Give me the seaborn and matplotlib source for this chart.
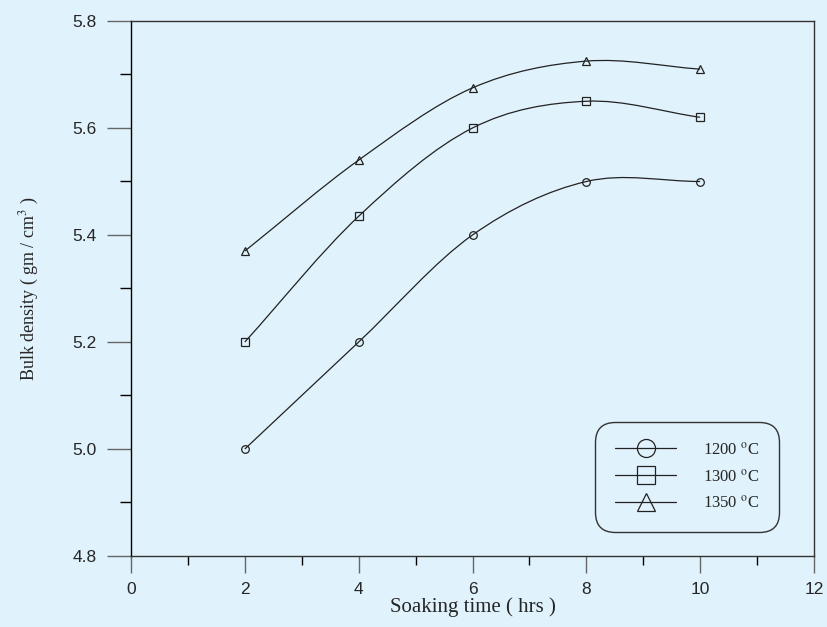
import numpy as np
import pandas as pd
import seaborn as sns
import matplotlib
matplotlib.use("Agg")
import matplotlib.pyplot as plt
from matplotlib.path import Path
from matplotlib.patches import PathPatch
from matplotlib.lines import Line2D
from matplotlib.ticker import MultipleLocator

# values
soak_hours = [2, 4, 6, 8, 10]
density_1200 = [5.0, 5.2, 5.4, 5.5, 5.5]
density_1300 = [5.2, 5.435, 5.6, 5.65, 5.62]
density_1350 = [5.37, 5.54, 5.675, 5.725, 5.71]
series_labels = ["1200 $^{\\mathrm{o}}$C", "1300 $^{\\mathrm{o}}$C", "1350 $^{\\mathrm{o}}$C"]
series_markers = ["o", "s", "^"]

BG = "#e0f2fc"


def smooth_path(xs, ys):
    """Catmull-Rom curve through the points, built as cubic Bezier path."""
    p = np.column_stack([xs, ys]).astype(float)
    n = len(p)
    m = np.zeros_like(p)
    m[1:-1] = (p[2:] - p[:-2]) / 2
    m[0] = p[1] - p[0]
    m[-1] = p[-1] - p[-2]
    verts = [tuple(p[0])]
    codes = [Path.MOVETO]
    for i in range(n - 1):
        verts += [tuple(p[i] + m[i] / 3), tuple(p[i + 1] - m[i + 1] / 3), tuple(p[i + 1])]
        codes += [Path.CURVE4] * 3
    return Path(verts, codes)


sns.set_style("ticks")
plt.rcParams["mathtext.fontset"] = "stix"

fig = plt.figure(figsize=(8.27, 6.27), dpi=100, facecolor=BG)
ax = fig.add_axes([131 / 827, 1 - 556 / 627, 683 / 827, 535 / 627])
ax.set_facecolor(BG)

for dens, mk in zip([density_1200, density_1300, density_1350], series_markers):
    ax.add_patch(PathPatch(smooth_path(soak_hours, dens), facecolor="none",
                           edgecolor="#222222", lw=0.9))
    df = pd.DataFrame({"hours": soak_hours, "density": dens})
    sns.lineplot(data=df, x="hours", y="density", ax=ax, marker=mk, linestyle="",
                 markerfacecolor="none", markeredgecolor="#222222",
                 markeredgewidth=0.9, markersize=6 if mk != "o" else 5.5,
                 color="#222222")

ax.set_xlim(0, 12)
ax.set_ylim(4.8, 5.8)
ax.xaxis.set_major_locator(MultipleLocator(2))
ax.xaxis.set_minor_locator(MultipleLocator(1))
ax.yaxis.set_major_locator(MultipleLocator(0.2))
ax.yaxis.set_minor_locator(MultipleLocator(0.1))
ax.set_yticklabels([f"{v:.1f}" for v in ax.get_yticks()])

for s in ax.spines.values():
    s.set_visible(True)
    s.set_color("#333333")
    s.set_linewidth(1.0)
ax.spines["left"].set_color("black")

# tick lengths in points (px * 0.72)
ax.tick_params(which="major", direction="out", length=12, width=1.0, color="#666666",
               labelsize=12.5, pad=7)
ax.tick_params(axis="y", which="major", length=17, pad=8)
ax.tick_params(which="minor", direction="out", length=6.5, width=1.0, color="black")
ax.tick_params(axis="y", which="minor", length=8)
for lab in ax.get_xticklabels() + ax.get_yticklabels():
    lab.set_fontfamily("Liberation Sans")

ax.set_xlabel("Soaking time ( hrs )", family="Liberation Serif", fontsize=15, labelpad=0)
ax.set_ylabel("Bulk density ( gm / cm$^{3}$ )", family="Liberation Serif", fontsize=13,
              labelpad=22)

handles = [Line2D([], [], color="#222222", lw=0.9, marker=mk, markersize=13,
                  markerfacecolor="none", markeredgecolor="#222222", markeredgewidth=0.9)
           for mk in series_markers]
leg = ax.legend(handles, series_labels, loc="lower left", bbox_to_anchor=(0.679, 0.045),
                prop={"family": "Liberation Serif", "size": 12}, handlelength=3.7,
                handletextpad=1.6, labelspacing=0.6, borderpad=1.2, borderaxespad=0,
                frameon=True, fancybox=True)
frame = leg.get_frame()
frame.set_facecolor(BG)
frame.set_edgecolor("#333333")
frame.set_linewidth(1.0)
frame.set_alpha(1)
frame.set_boxstyle("round", pad=0.0, rounding_size=1.2)

fig.savefig("out.png", dpi=100, facecolor=BG)
